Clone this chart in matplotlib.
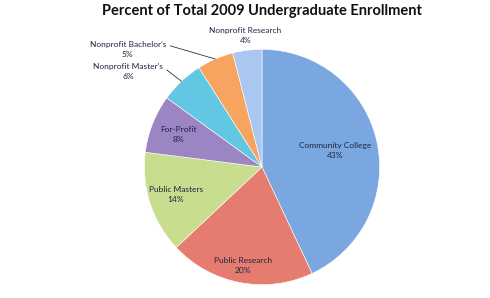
import matplotlib
matplotlib.use("Agg")
import matplotlib.pyplot as plt
import numpy as np

categories = ["Community College", "Public Research", "Public Masters", "For-Profit",
              "Nonprofit Master's", "Nonprofit Bachelor's", "Nonprofit Research"]
shares = [43, 20, 14, 8, 6, 5, 4]
pct_labels = ["43%", "20%", "14%", "8%", "6%", "5%", "4%"]
colors = ["#7aa7e0", "#e67b70", "#c9dd8f", "#9b86c3", "#62c7e3", "#f6a45f", "#a9c7f1"]

plt.rcParams["font.family"] = ["Lato", "DejaVu Sans"]

fig = plt.figure(figsize=(4.9, 2.98), dpi=100)
fig.text(0.535, 0.962, "Percent of Total 2009 Undergraduate Enrollment",
         ha="center", va="center", fontsize=10.5, fontweight="bold", color="#111111")

ax = fig.add_axes([142 / 490, 11 / 298, 240 / 490, 240 / 298])
wedges, _ = ax.pie(shares, colors=colors, startangle=90, counterclock=False,
                   radius=1.0, wedgeprops=dict(edgecolor="white", linewidth=0.4))
ax.set_xlim(-1.02, 1.02)
ax.set_ylim(-1.02, 1.02)
ax.axis("off")

txt_kw = dict(ha="center", va="center", fontsize=6, color="#1c2640", linespacing=1.5)

# labels inside the larger slices
inside_r = [0.64, 0.85, 0.77, 0.76]
for w, name, pct, r in zip(wedges[:4], categories[:4], pct_labels[:4], inside_r):
    th = np.deg2rad((w.theta1 + w.theta2) / 2)
    ax.text(r * np.cos(th), r * np.sin(th), f"{name}\n{pct}", **txt_kw)

# small slices: labels outside
outside_pos = {4: (-1.14, 0.81), 5: (-1.14, 1.00), 6: (-0.14, 1.12)}
for i, (x, y) in outside_pos.items():
    w = wedges[i]
    th = np.deg2rad((w.theta1 + w.theta2) / 2)
    if i == 6:
        ax.text(x, y, f"{categories[i]}\n{pct_labels[i]}", clip_on=False, **txt_kw)
    else:
        ax.annotate(f"{categories[i]}\n{pct_labels[i]}", xy=(np.cos(th), np.sin(th)),
                    xytext=(x, y), annotation_clip=False,
                    arrowprops=dict(arrowstyle="-", color="#333333", lw=0.6,
                                    relpos=(1.0, 0.78), shrinkA=1, shrinkB=0),
                    **txt_kw)

fig.savefig("out.png", dpi=100)
